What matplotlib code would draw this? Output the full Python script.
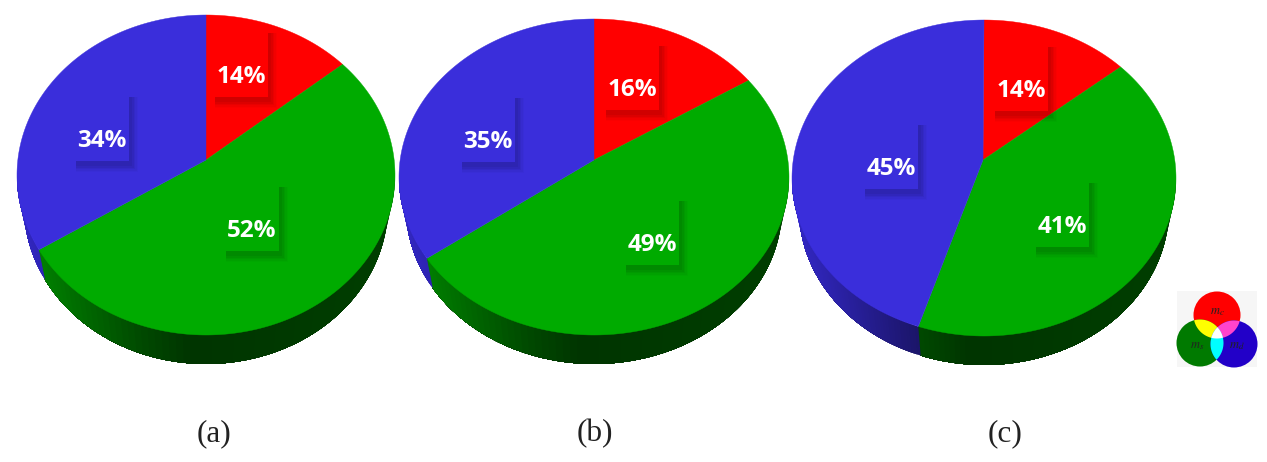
"""Three pseudo-3D pie charts with a small colour key."""

import numpy as np
import matplotlib

matplotlib.use("Agg")
import matplotlib.pyplot as plt
from matplotlib.patches import Circle, Polygon, Rectangle

# data
captions = ["(a)", "(b)", "(c)"]
red_share = [14, 16, 14]
green_share = [52, 49, 41]
blue_share = [34, 35, 45]
key_labels = [r"$m_c$", r"$m_s$", r"$m_d$"]

# layout, in pixels of the 1267x462 picture
apex = [(206, 160), (594, 160), (983, 160)]
centre = [(206, 175), (594, 177), (984, 178)]
radius = [(189, 160), (195, 158), (192, 158)]
caption_xy = [(214, 434), (595, 434), (1005, 434)]
label_xy = [
    [(241, 77), (252, 231), (102, 141)],
    [(632, 90), (652, 245), (488, 142)],
    [(1021, 91), (1062, 227), (891, 169)],
]

COLORS = ["#ff0000", "#00ab00", "#3a2edb"]
SIDE_RGB = [(1.0, 0.0, 0.0), (0.0, 0.49, 0.0), (0.18, 0.14, 0.70)]


def ray_param(angle, cy_offset):
    """Ellipse parameter hit by a ray from the apex at the given pie angle."""
    dx, dy = np.sin(angle), -np.cos(angle)
    b = cy_offset * dy
    s = -b + np.sqrt(b * b - (cy_offset**2 - 1))
    ux, uy = s * dx, cy_offset + s * dy
    return np.arctan2(ux, -uy) % (2 * np.pi)


def side_shade(x_frac):
    return np.interp(x_frac, [0.0, 0.07, 0.32, 0.46, 1.0], [1.1, 1.0, 0.6, 0.42, 0.5])


def rim(c, r, t):
    return c[0] + r[0] * np.sin(t), c[1] - r[1] * np.cos(t)


def draw_wall(ax, i, t_start, t_end, c, r):
    """Side wall of one slice, painted right to left so the strips leave no seams."""
    c_low = (c[0], c[1] + 31)
    r_low = (r[0] - 7, r[1] - 2)
    steps = np.linspace(t_start, t_end, 70)
    for t0 in steps[:-1]:
        t = np.linspace(t0, t_end, 60)
        xt, yt = rim(c, r, t)
        xb, yb = rim(c_low, r_low, t)
        frac = (np.sin(t0 + (steps[1] - steps[0]) / 2) + 1) / 2
        col = np.clip(np.array(SIDE_RGB[i]) * side_shade(frac), 0, 1)
        pts = np.column_stack([np.r_[xt, xb[::-1]], np.r_[yt, yb[::-1]]])
        ax.add_patch(Polygon(pts, closed=True, fc=col, ec="none", zorder=1))


def draw_pie(ax, shares, ap, c, r):
    offset = (ap[1] - c[1]) / r[1]
    bounds = np.cumsum([0] + list(shares)) / sum(shares) * 2 * np.pi
    params = [ray_param(a, offset) for a in bounds[:-1]] + [2 * np.pi]
    params[0] = 0.0

    for i in range(3):
        t_low = max(params[i], np.pi / 2)
        t_high = min(params[i + 1], 3 * np.pi / 2)
        if t_high > t_low:
            draw_wall(ax, i, t_low, t_high, c, r)

        x, y = rim(c, r, np.linspace(params[i], params[i + 1], 200))
        pts = [ap] + list(zip(x, y))
        ax.add_patch(Polygon(pts, closed=True, fc=COLORS[i], ec=COLORS[i], lw=0.3, zorder=2))


def draw_label(ax, xy, share, i):
    x, y = xy
    left, top, w, h = x - 27, y - 48, 54, 68
    # soft shadow to the lower right, then a box of the slice colour over it
    for grow, alpha in ((6, 0.02), (4.5, 0.03), (3, 0.04), (1.5, 0.05), (0, 0.05)):
        ax.add_patch(Rectangle((left + 1, top + 4), w + 2 + grow, h + 1 + grow, fc="black",
                               ec="none", alpha=alpha, zorder=3))
    ax.add_patch(Rectangle((left, top), w, h, fc=COLORS[i], ec="none", zorder=4))
    ax.text(x, y, f"{share}%", color="white", fontsize=17.5, fontweight="bold",
            family=["Liberation Sans Narrow", "Open Sans"], ha="center", va="center", zorder=5)


def lens(c1, c2, r):
    """Outline of the overlap of two equal circles."""
    t = np.linspace(0, 2 * np.pi, 300)
    pts = []
    for a, b in ((c1, c2), (c2, c1)):
        px = a[0] + r * np.cos(t)
        py = a[1] + r * np.sin(t)
        keep = np.hypot(px - b[0], py - b[1]) <= r
        pts.append(np.column_stack([px[keep], py[keep]]))
    pts = np.vstack(pts)
    mid = pts.mean(axis=0)
    order = np.argsort(np.arctan2(pts[:, 1] - mid[1], pts[:, 0] - mid[0]))
    return pts[order]


def draw_key(ax):
    ax.add_patch(Rectangle((1177, 291), 80, 76, fc="#f6f6f6", ec="none", zorder=1))
    r = 23.5
    red, green, blue = (1217, 315), (1200, 343), (1234, 344)
    ax.add_patch(Circle(red, r, fc="#ff0000", ec="none", zorder=2))
    ax.add_patch(Circle(green, r, fc="#007a00", ec="none", zorder=2))
    ax.add_patch(Circle(blue, r, fc="#2200c8", ec="none", zorder=2))
    for a, b, col in ((red, green, "#ffff00"), (red, blue, "#ff44cc"), (green, blue, "#00ffff")):
        ax.add_patch(Polygon(lens(a, b, r), closed=True, fc=col, ec="none", zorder=3))
    white = Polygon(lens(red, green, r), closed=True, transform=ax.transData)
    top = Circle(blue, r, fc="white", ec="none", zorder=4)
    ax.add_patch(top)
    top.set_clip_path(white)
    for xy, label in zip(((1217, 311), (1197, 345), (1237, 345)), key_labels):
        ax.text(xy[0], xy[1], label, fontsize=9, color="#222222",
                ha="center", va="center", zorder=5, math_fontfamily="stix")


def main():
    fig = plt.figure(figsize=(12.67, 4.62), dpi=100)
    ax = fig.add_axes([0, 0, 1, 1])
    ax.set_xlim(0, 1267)
    ax.set_ylim(462, 0)
    ax.axis("off")

    for n in range(3):
        shares = (red_share[n], green_share[n], blue_share[n])
        draw_pie(ax, shares, apex[n], centre[n], radius[n])
        for i in range(3):
            draw_label(ax, label_xy[n][i], shares[i], i)
        ax.text(caption_xy[n][0], caption_xy[n][1], captions[n], fontsize=22.5,
                family="Liberation Serif", color="#222222", ha="center", va="center")

    draw_key(ax)
    fig.savefig("out.png", dpi=100)
    plt.close(fig)


main()
